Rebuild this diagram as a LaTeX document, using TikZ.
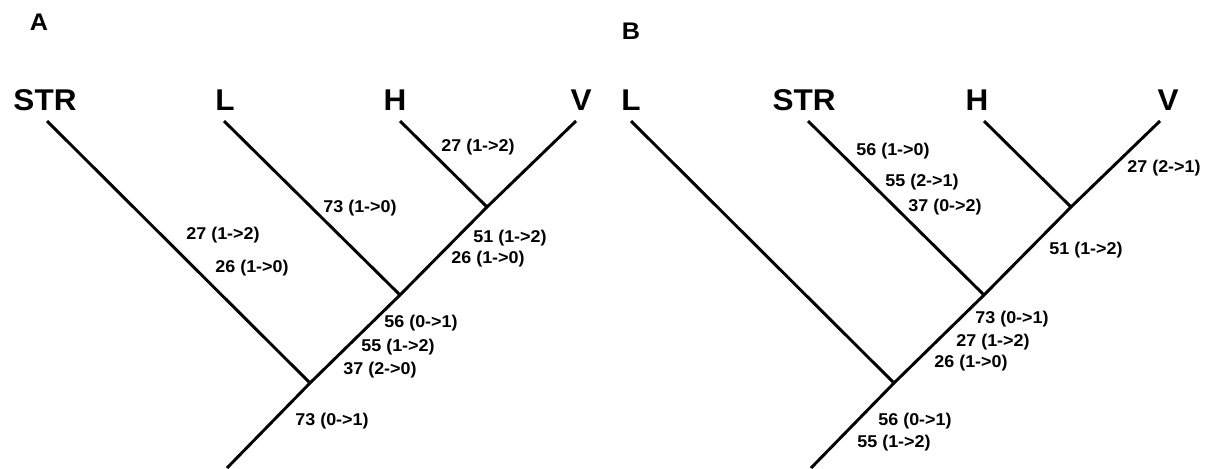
\documentclass[tikz,border=0pt]{standalone}
\usepackage{fontspec}
\setmainfont{Liberation Sans}[FakeStretch=1.05]
\usetikzlibrary{positioning}

\begin{document}
\begin{tikzpicture}[
    x = 0.75pt,
    y = -0.75pt,
    branch/.style = {line width=2.2pt},
    taxon/.style = {inner sep=0pt, font=\fontsize{22.5}{22.5}\selectfont\bfseries},
    change/.style = {inner sep=0pt, font=\fontsize{12.8}{12.8}\selectfont\bfseries},
    panel/.style = {inner sep=0pt, font=\fontsize{18}{18}\selectfont\bfseries}
  ]
  \useasboundingbox (0,0) rectangle (1209,468);

  % Panel A
  \node[panel] (A) at (39,22) {A};
  \node[taxon] (strA) at (45,100) {STR};
  \node[taxon] (lA) at (225,100) {L};
  \node[taxon] (hA) at (395,100) {H};
  \node[taxon] (vA) at (581,100) {V};

  \coordinate (tstrA) at (47,121);
  \coordinate (tlA) at (224,121);
  \coordinate (thA) at (400,121);
  \coordinate (tvA) at (576,121);
  \coordinate (hvA) at (487,207);
  \coordinate (lhvA) at (400,295);
  \coordinate (allA) at (310,383);
  \coordinate (rootA) at (227,468);

  \draw[branch] (tvA) -- (hvA) -- (lhvA) -- (allA) -- (rootA);
  \draw[branch] (thA) -- (hvA);
  \draw[branch] (tlA) -- (lhvA);
  \draw[branch] (tstrA) -- (allA);

  \node[change] at (478,147) {27 (1->2)};
  \node[change] at (360,208) {73 (1->0)};
  \node[change] at (223,235) {27 (1->2)};
  \node[change] at (252,268) {26 (1->0)};
  \node[change] at (510,238) {51 (1->2)};
  \node[change] at (488,259) {26 (1->0)};
  \node[change] at (421,323) {56 (0->1)};
  \node[change] at (398,347) {55 (1->2)};
  \node[change] at (380,370) {37 (2->0)};
  \node[change] at (332,421) {73 (0->1)};

  % Panel B
  \node[panel] (B) at (631,31) {B};
  \node[taxon] (lB) at (631,100) {L};
  \node[taxon] (strB) at (804,100) {STR};
  \node[taxon] (hB) at (977,100) {H};
  \node[taxon] (vB) at (1168,100) {V};

  \coordinate (tlB) at (631,121);
  \coordinate (tstrB) at (808,121);
  \coordinate (thB) at (984,121);
  \coordinate (tvB) at (1160,121);
  \coordinate (hvB) at (1071,207);
  \coordinate (shvB) at (984,295);
  \coordinate (allB) at (894,383);
  \coordinate (rootB) at (811,468);

  \draw[branch] (tvB) -- (hvB) -- (shvB) -- (allB) -- (rootB);
  \draw[branch] (thB) -- (hvB);
  \draw[branch] (tstrB) -- (shvB);
  \draw[branch] (tlB) -- (allB);

  \node[change] at (893,151) {56 (1->0)};
  \node[change] at (922,182) {55 (2->1)};
  \node[change] at (945,207) {37 (0->2)};
  \node[change] at (1164,168) {27 (2->1)};
  \node[change] at (1086,250) {51 (1->2)};
  \node[change] at (1012,319) {73 (0->1)};
  \node[change] at (993,342) {27 (1->2)};
  \node[change] at (971,363) {26 (1->0)};
  \node[change] at (915,421) {56 (0->1)};
  \node[change] at (894,443) {55 (1->2)};
\end{tikzpicture}
\end{document}
